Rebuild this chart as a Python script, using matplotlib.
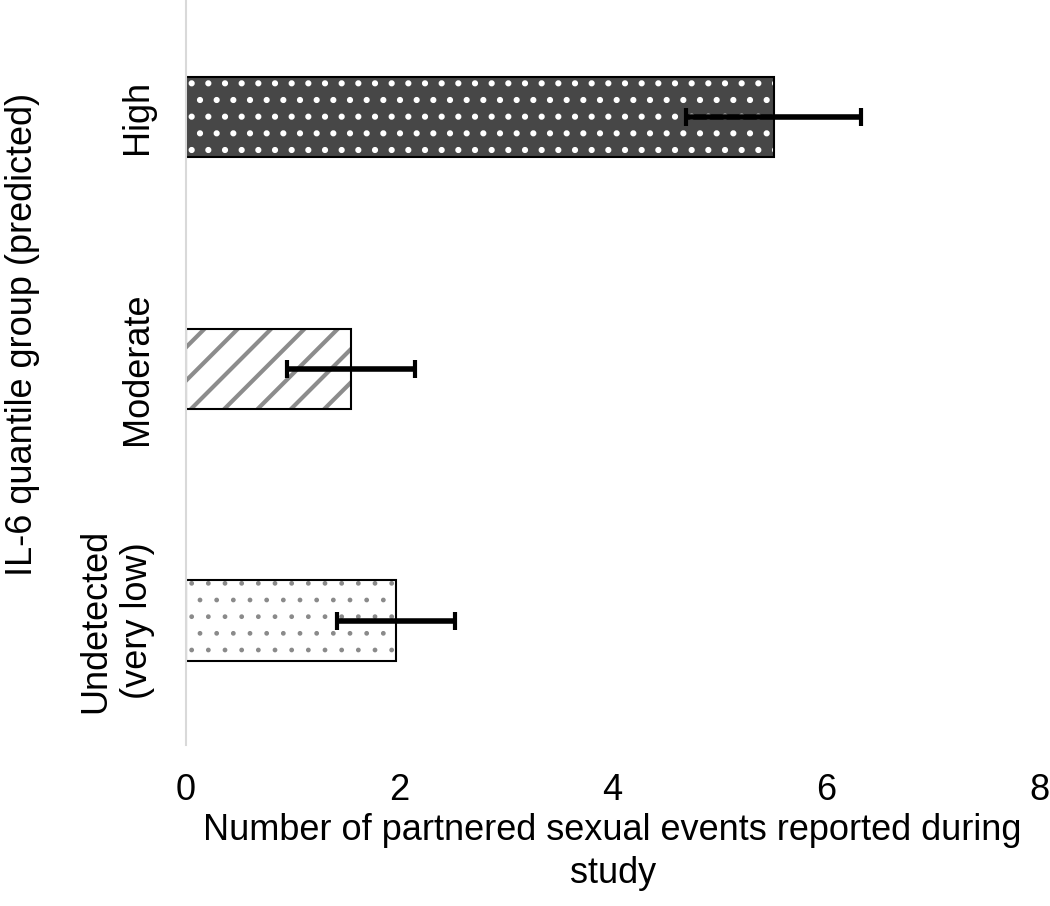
import matplotlib.pyplot as plt
import numpy as np

plt.rcParams['font.family'] = ['Liberation Sans', 'DejaVu Sans']

groups = ['Undetected\n(very low)', 'Moderate', 'High']
means = [1.97, 1.55, 5.51]
errs = [0.55, 0.60, 0.82]
xticks = [0, 2, 4, 6, 8]

fig = plt.figure(figsize=(10.5, 9.06), dpi=100)
ax = fig.add_axes([0.177, 0.178, 0.813, 0.822])

y = np.arange(len(groups))
h = 0.32

# fills: hatches in their own colour, outlines drawn afterwards
with plt.rc_context({'hatch.linewidth': 1.0}):
    ax.barh(y[0], means[0], height=h, color='white', edgecolor='#8a8a8a',
            hatch='.', linewidth=0)
with plt.rc_context({'hatch.linewidth': 3.0}):
    ax.barh(y[1], means[1], height=h, color='white', edgecolor='#8c8c8c',
            hatch='/', linewidth=0)
with plt.rc_context({'hatch.linewidth': 2.0}):
    ax.barh(y[2], means[2], height=h, color='#474747', edgecolor='white',
            hatch='.', linewidth=0)
ax.barh(y, means, height=h, color='none', edgecolor='black', linewidth=1.5)

ax.errorbar(means, y, xerr=errs, fmt='none', ecolor='black',
            elinewidth=4, capsize=6.5, capthick=3)

ax.set_xlim(0, 8)
ax.set_ylim(-0.492, 2.464)
ax.set_xticks(xticks)
ax.set_yticks(y)
ax.set_yticklabels(groups, rotation=90, va='center', ha='right',
                   multialignment='center', linespacing=1.25)
ax.tick_params(axis='both', length=0, labelsize=26)
ax.tick_params(axis='y', pad=22)
ax.tick_params(axis='x', pad=20)

for s in ['top', 'right', 'bottom']:
    ax.spines[s].set_visible(False)
ax.spines['left'].set_color('#d9d9d9')
ax.spines['left'].set_linewidth(1.5)

ax.set_xlabel('Number of partnered sexual events reported during\nstudy',
              fontsize=26, labelpad=4, linespacing=1.3)
ax.set_ylabel('IL-6 quantile group (predicted)', fontsize=26)
ax.yaxis.set_label_coords(-0.171, 0.551)

fig.savefig('out.png', dpi=100)
